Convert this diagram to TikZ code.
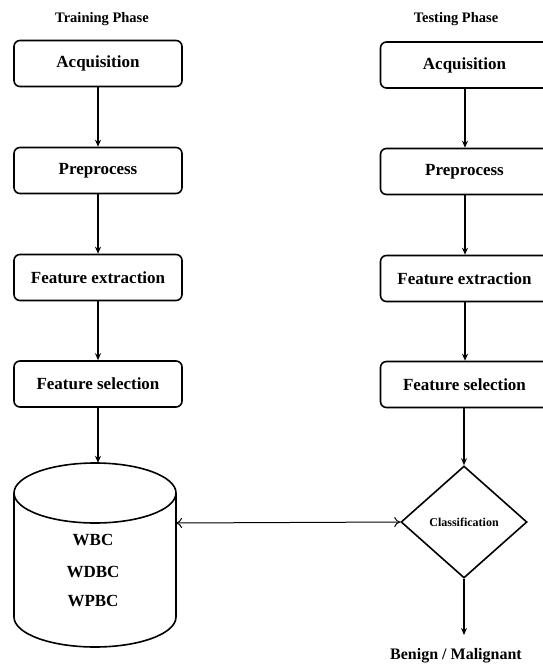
\documentclass[tikz,border=0pt]{standalone}
\usepackage{fontspec}
\setmainfont{Liberation Serif}
\usetikzlibrary{arrows.meta,shapes.geometric}
\begin{document}
\begin{tikzpicture}[x=1pt,y=-1pt,
  stepbox/.style={draw,line width=1.6pt,rounded corners=6pt,minimum width=168pt,minimum height=46pt,inner sep=0pt,font=\fontsize{17}{20}\selectfont\bfseries},
  phasetitle/.style={font=\fontsize{14.5}{16}\selectfont\bfseries},
  dbtext/.style={font=\fontsize{17}{20}\selectfont\bfseries},
  flow/.style={line width=1.6pt,-{Stealth[length=7pt,width=6pt]}},
  both/.style={line width=1pt,{To[length=6pt,width=10pt]}-{To[length=6pt,width=10pt]}},
]
\useasboundingbox (0,0) rectangle (542,664);
\node[phasetitle] (tt) at (102,19) {Training Phase};
\node[phasetitle] (st) at (456,19) {Testing Phase};
% training
\node[stepbox] (a1) at (98,63.5) {Acquisition};
\node[stepbox] (p1) at (98,170.5) {Preprocess};
\node[stepbox] (e1) at (98,277.5) {Feature extraction};
\node[stepbox] (s1) at (98,384) {Feature selection};
% testing
\node[stepbox] (a2) at (464.5,65) {Acquisition};
\node[stepbox] (p2) at (464.5,171.5) {Preprocess};
\node[stepbox] (e2) at (464.5,278.5) {Feature extraction};
\node[stepbox] (s2) at (464.5,384.5) {Feature selection};
% database cylinder
\node[minimum width=162pt,minimum height=184pt,inner sep=0pt] (db) at (95,555) {};
\draw[line width=1.6pt] (95,493) ellipse [x radius=81pt,y radius=30pt];
\draw[line width=1.6pt] (14,493) -- (14,617) arc[start angle=180,end angle=360,x radius=81pt,y radius=30pt] -- (176,493);
\node[dbtext] (w1) at (93,540) {WBC};
\node[dbtext] (w2) at (93,572) {WDBC};
\node[dbtext] (w3) at (93,601) {WPBC};
\coordinate (dbr) at (176,523);
% classification
\node[draw,diamond,line width=1.6pt,minimum width=126pt,minimum height=112pt,inner sep=0pt,font=\fontsize{12}{14}\selectfont\bfseries] (cls) at (464,522) {Classification};
\node[font=\fontsize{16}{18}\selectfont\bfseries,anchor=base,inner sep=0pt] (out) at (456,659) {Benign / Malignant};
\coordinate (outtip) at (464,635);
% connectors
\draw[flow] (a1) -- (p1);
\draw[flow] (p1) -- (e1);
\draw[flow] (e1) -- (s1);
\draw[flow] (s1.south) -- (s1.south |- db.north);
\draw[flow] (a2.south -| 465,0) -- (p2.north -| 465,0);
\draw[flow] (p2.south -| 465,0) -- (e2.north -| 465,0);
\draw[flow] (e2.south -| 465,0) -- (s2.north -| 465,0);
\draw[flow] (s2.south -| cls.north) -- (cls.north);
\draw[flow] (cls.south) -- (outtip);
\draw[both] (dbr) -- (cls.west);
\end{tikzpicture}
\end{document}
